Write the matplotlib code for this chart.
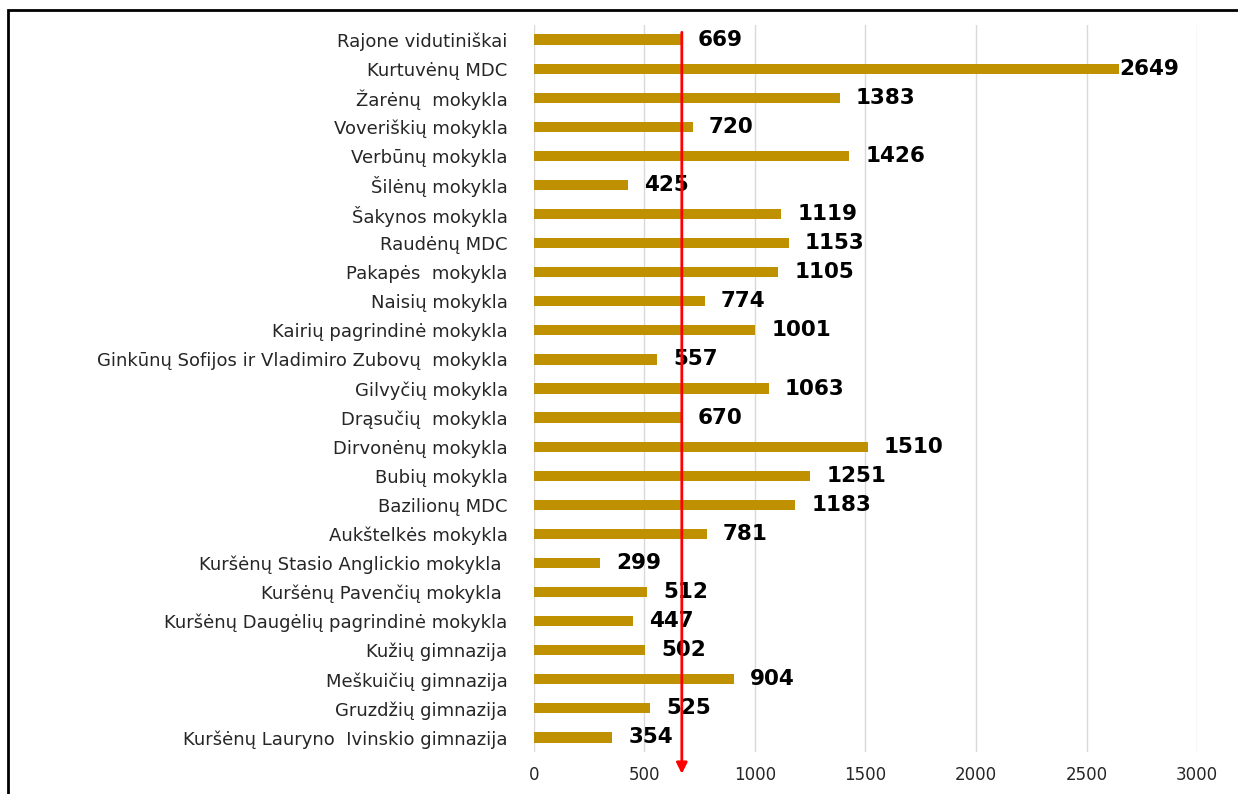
import matplotlib.pyplot as plt
from matplotlib.patches import Rectangle

schools = [
    "Rajone vidutiniškai",
    "Kurtuvėnų MDC",
    "Žarėnų  mokykla",
    "Voveriškių mokykla",
    "Verbūnų mokykla",
    "Šilėnų mokykla",
    "Šakynos mokykla",
    "Raudėnų MDC",
    "Pakapės  mokykla",
    "Naisių mokykla",
    "Kairių pagrindinė mokykla",
    "Ginkūnų Sofijos ir Vladimiro Zubovų  mokykla",
    "Gilvyčių mokykla",
    "Drąsučių  mokykla",
    "Dirvonėnų mokykla",
    "Bubių mokykla",
    "Bazilionų MDC",
    "Aukštelkės mokykla",
    "Kuršėnų Stasio Anglickio mokykla ",
    "Kuršėnų Pavenčių mokykla ",
    "Kuršėnų Daugėlių pagrindinė mokykla",
    "Kužių gimnazija",
    "Meškuičių gimnazija",
    "Gruzdžių gimnazija",
    "Kuršėnų Lauryno  Ivinskio gimnazija",
]
values = [669, 2649, 1383, 720, 1426, 425, 1119, 1153, 1105, 774, 1001, 557, 1063,
          670, 1510, 1251, 1183, 781, 299, 512, 447, 502, 904, 525, 354]
average = 669
xticks = [0, 500, 1000, 1500, 2000, 2500, 3000]

plt.rcParams['font.family'] = ['DejaVu Sans']

fig = plt.figure(figsize=(12.38, 7.94), dpi=100)
ax = fig.add_axes([0.4313, 0.0529, 0.5356, 0.9156])

pos = list(range(len(schools)))
ax.barh(pos, values, height=0.35, color='#BF9000', zorder=2)

for y, v in zip(pos, values):
    if v > 2500:
        ax.text(v - 2, y, str(v), va='center', ha='left', fontsize=15.5,
                fontweight='bold', color='black', zorder=4)
    else:
        ax.annotate(str(v), (v, y), xytext=(11.5, 0), textcoords='offset points',
                    va='center', ha='left', fontsize=15.5, fontweight='bold',
                    color='black', zorder=4)

# average arrow
ax.annotate('', xy=(average, 25.25), xytext=(average, -0.25),
            arrowprops=dict(arrowstyle='-|>', color='red', lw=2,
                            mutation_scale=16, shrinkA=0, shrinkB=0),
            annotation_clip=False, zorder=5)

ax.set_xlim(0, 3000)
ax.set_ylim(24.5, -0.5)
ax.set_yticks(pos)
ax.set_yticklabels(schools, fontsize=13, color='#262626')
ax.set_xticks(xticks)
ax.set_xticklabels([str(t) for t in xticks], fontsize=12, color='#262626')
ax.tick_params(axis='both', length=0)
ax.tick_params(axis='y', pad=19)
ax.tick_params(axis='x', pad=10)
ax.grid(axis='x', color='#D9D9D9', lw=1, zorder=0)
for s in ax.spines.values():
    s.set_visible(False)

fig.patches.append(Rectangle((0.0065, -0.2), 1.2, 0.987 + 0.2, transform=fig.transFigure,
                             fill=False, edgecolor='black', lw=2))

fig.savefig('out.png', dpi=100)
